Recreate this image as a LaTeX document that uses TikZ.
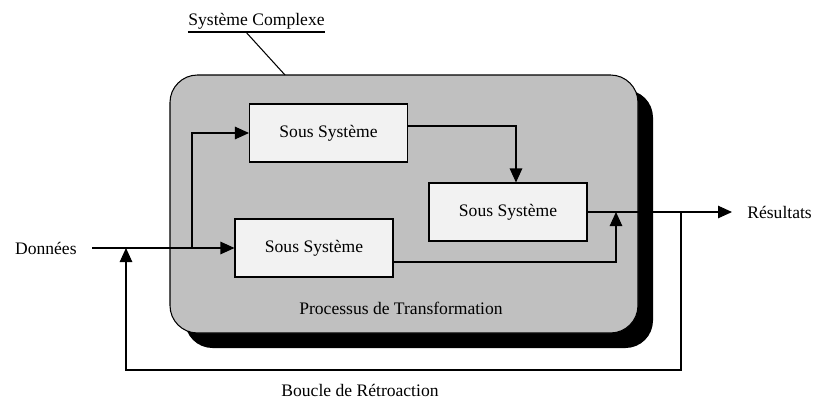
\documentclass[tikz,border=0pt]{standalone}
\usepackage{fontspec}
\setmainfont{Liberation Serif}
\usetikzlibrary{arrows.meta}
\definecolor{procgray}{RGB}{192,192,192}
\definecolor{boxfill}{RGB}{242,242,242}

\begin{document}
\begin{tikzpicture}[x=0.02cm,y=-0.02cm,line width=0.6pt,
    >={Triangle[length=2.8mm,width=2.5mm]},
    soussys/.style={draw,fill=boxfill,minimum width=3.16cm,minimum height=1.16cm,inner sep=0pt}]
                    \useasboundingbox (0,0) rectangle (816,403);
                    % process block with its shadow
                    \fill[rounded corners=0.55cm] (185,90) rectangle (653,348);
                    \draw[fill=procgray,rounded corners=0.55cm] (170,75) rectangle (638,333);
                    \node at (401,308) {Processus de Transformation};
                    \node[anchor=south,inner xsep=0pt,inner ysep=1pt] (syscplx) at (256.5,32) {Système Complexe};
                    \draw (syscplx.south west) -- (syscplx.south east);
                    \draw ([xshift=1.16cm]syscplx.south west) -- (285,75);
                    % sub-systems
                    \node[soussys] (ssA) at (328.5,133) {Sous Système};
                    \node[soussys] (ssB) at (314,248) {Sous Système};
                    \node[soussys] (ssC) at (508,212) {Sous Système};
                    \coordinate (in) at (92,248);
                    \coordinate (split) at (192,248);
                    \coordinate (join) at (616,212);
                    \coordinate (tap) at (681,212);
                    \coordinate (out) at (732,212);
                    \coordinate (fb) at (126,370);
                    \node[anchor=east] (donnees) at (83,248) {Données};
                    \node[anchor=west] (resultats) at (741,212) {Résultats};
                    \node (boucle) at (360,390) {Boucle de Rétroaction};
                    \draw[->] (in) -- (ssB.west);
                    \draw[->] (split) |- (ssA.west);
                    \draw[->] ([yshift=0.14cm]ssA.east) -| ([xshift=0.16cm]ssC.north);
                    \draw[->] ([yshift=-0.28cm]ssB.east) -| (join);
                    \draw[->] (ssC.east) -- (out);
                    \draw[->] (tap) |- (fb) -- (fb |- in);
                \end{tikzpicture}
\end{document}
